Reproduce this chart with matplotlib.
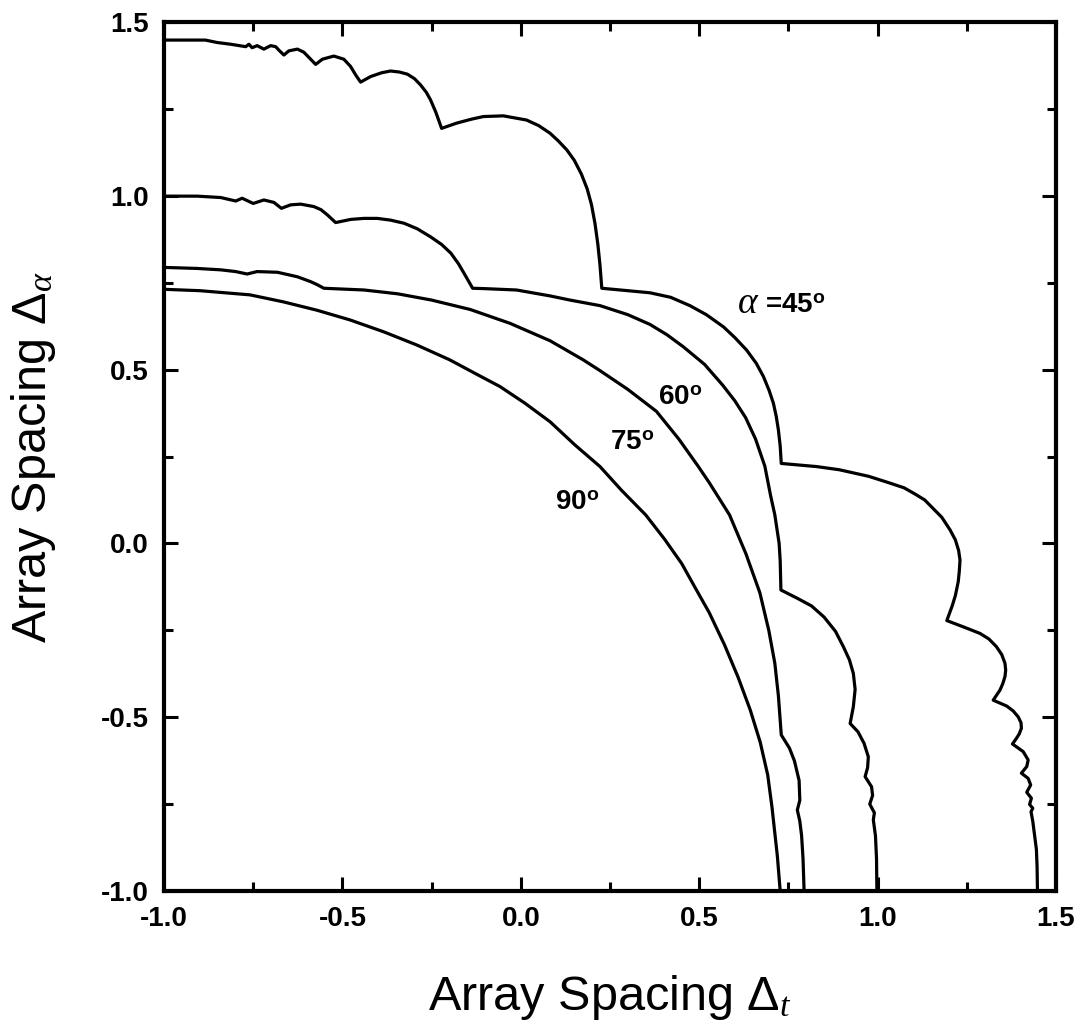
import matplotlib
matplotlib.use('Agg')
import matplotlib.pyplot as plt
from matplotlib import font_manager
from matplotlib.ticker import MultipleLocator, FormatStrFormatter

# curves as (Delta_t, Delta_alpha) pairs
pts45 = [(-1.000, 1.448), (-0.884, 1.448), (-0.851, 1.441), (-0.813, 1.436), (-0.771, 1.429),
         (-0.762, 1.436), (-0.753, 1.426), (-0.739, 1.432), (-0.720, 1.422), (-0.701, 1.432),
         (-0.687, 1.429), (-0.678, 1.419), (-0.664, 1.405), (-0.650, 1.417), (-0.626, 1.422),
         (-0.608, 1.413), (-0.589, 1.393), (-0.575, 1.378), (-0.556, 1.393), (-0.524, 1.402),
         (-0.496, 1.393), (-0.477, 1.372), (-0.463, 1.348), (-0.449, 1.327), (-0.421, 1.343),
         (-0.390, 1.354), (-0.365, 1.359), (-0.340, 1.356), (-0.318, 1.350), (-0.298, 1.337),
         (-0.281, 1.319), (-0.265, 1.298), (-0.253, 1.276), (-0.238, 1.240), (-0.222, 1.194),
         (-0.180, 1.209), (-0.140, 1.220), (-0.105, 1.228), (-0.049, 1.230), (0.016, 1.218),
         (0.050, 1.202), (0.082, 1.180), (0.105, 1.158), (0.129, 1.132), (0.150, 1.102),
         (0.170, 1.062), (0.186, 1.020), (0.198, 0.975), (0.208, 0.920), (0.216, 0.860),
         (0.222, 0.800), (0.227, 0.734), (0.300, 0.727), (0.362, 0.721), (0.420, 0.708),
         (0.474, 0.684), (0.520, 0.658), (0.568, 0.623), (0.600, 0.592), (0.633, 0.556),
         (0.660, 0.518), (0.680, 0.480), (0.696, 0.440), (0.708, 0.403), (0.716, 0.365),
         (0.722, 0.326), (0.727, 0.280), (0.730, 0.230), (0.829, 0.221), (0.892, 0.212),
         (0.975, 0.193), (1.030, 0.175), (1.074, 0.160), (1.105, 0.142), (1.132, 0.125),
         (1.156, 0.100), (1.180, 0.075), (1.203, 0.039), (1.218, 0.010), (1.227, -0.020),
         (1.231, -0.048), (1.229, -0.080), (1.226, -0.110), (1.218, -0.150), (1.209, -0.180),
         (1.194, -0.222), (1.250, -0.244), (1.287, -0.259), (1.312, -0.275), (1.333, -0.297),
         (1.348, -0.320), (1.357, -0.345), (1.359, -0.365), (1.357, -0.383), (1.351, -0.403),
         (1.343, -0.422), (1.324, -0.451), (1.362, -0.468), (1.380, -0.482), (1.394, -0.499),
         (1.402, -0.516), (1.403, -0.532), (1.397, -0.548), (1.389, -0.561), (1.378, -0.577),
         (1.408, -0.599), (1.422, -0.623), (1.418, -0.642), (1.403, -0.661), (1.422, -0.676),
         (1.429, -0.695), (1.418, -0.716), (1.431, -0.733), (1.426, -0.751), (1.435, -0.762),
         (1.430, -0.772), (1.435, -0.800), (1.440, -0.840), (1.445, -0.880), (1.447, -0.930),
         (1.448, -1.000)]

pts60 = [(-1.000, 0.999), (-0.907, 0.999), (-0.841, 0.995), (-0.799, 0.985), (-0.781, 0.993),
         (-0.750, 0.978), (-0.720, 0.988), (-0.692, 0.981), (-0.671, 0.964), (-0.645, 0.974),
         (-0.617, 0.976), (-0.580, 0.969), (-0.560, 0.960), (-0.542, 0.945), (-0.519, 0.923),
         (-0.477, 0.932), (-0.440, 0.935), (-0.402, 0.935), (-0.365, 0.930), (-0.327, 0.921),
         (-0.290, 0.905), (-0.253, 0.882), (-0.222, 0.860), (-0.196, 0.835), (-0.175, 0.805),
         (-0.159, 0.777), (-0.135, 0.734), (-0.103, 0.733), (-0.012, 0.729), (0.082, 0.712),
         (0.138, 0.700), (0.222, 0.684), (0.300, 0.658), (0.362, 0.630), (0.410, 0.600),
         (0.455, 0.566), (0.515, 0.515), (0.566, 0.455), (0.600, 0.410), (0.630, 0.362),
         (0.658, 0.300), (0.684, 0.222), (0.700, 0.138), (0.712, 0.082), (0.724, 0.000),
         (0.727, -0.050), (0.729, -0.134), (0.777, -0.159), (0.815, -0.180), (0.850, -0.212),
         (0.882, -0.253), (0.904, -0.297), (0.921, -0.335), (0.932, -0.374), (0.937, -0.420),
         (0.932, -0.470), (0.923, -0.518), (0.945, -0.542), (0.962, -0.575), (0.974, -0.614),
         (0.972, -0.645), (0.965, -0.671), (0.983, -0.700), (0.986, -0.725), (0.978, -0.750),
         (0.991, -0.775), (0.988, -0.795), (0.994, -0.841), (0.997, -0.907), (0.998, -1.000)]

pts75 = [(-1.000, 0.794), (-0.907, 0.791), (-0.841, 0.787), (-0.799, 0.782), (-0.767, 0.775),
         (-0.739, 0.782), (-0.682, 0.780), (-0.626, 0.767), (-0.589, 0.753), (-0.570, 0.744),
         (-0.552, 0.734), (-0.439, 0.729), (-0.345, 0.718), (-0.250, 0.700), (-0.142, 0.673),
         (-0.030, 0.633), (0.082, 0.583), (0.175, 0.528), (0.222, 0.497), (0.300, 0.443),
         (0.380, 0.380), (0.443, 0.300), (0.497, 0.222), (0.528, 0.175), (0.585, 0.082),
         (0.631, -0.030), (0.670, -0.142), (0.695, -0.250), (0.712, -0.345), (0.722, -0.439),
         (0.730, -0.551), (0.753, -0.589), (0.767, -0.626), (0.780, -0.682), (0.782, -0.739),
         (0.775, -0.767), (0.782, -0.799), (0.787, -0.841), (0.791, -0.907), (0.794, -1.000)]

pts90 = [(-1.000, 0.731), (-0.899, 0.727), (-0.759, 0.715), (-0.666, 0.695), (-0.572, 0.671),
         (-0.479, 0.643), (-0.385, 0.609), (-0.292, 0.571), (-0.199, 0.528), (-0.128, 0.489),
         (-0.058, 0.451), (0.012, 0.403), (0.082, 0.350), (0.152, 0.283), (0.222, 0.221),
         (0.283, 0.152), (0.350, 0.082), (0.403, 0.012), (0.451, -0.058), (0.489, -0.128),
         (0.528, -0.199), (0.571, -0.292), (0.609, -0.385), (0.643, -0.479), (0.671, -0.572),
         (0.692, -0.666), (0.704, -0.759), (0.719, -0.899), (0.727, -1.000)]

labels = [r'=45$^{\mathbf{o}}$', r'60$^{\mathbf{o}}$', r'75$^{\mathbf{o}}$', r'90$^{\mathbf{o}}$']
label_x = [0.684, 0.385, 0.250, 0.096]
label_y = [0.663, 0.398, 0.269, 0.096]

have_narrow = any(f.name == 'Liberation Sans Narrow' for f in font_manager.fontManager.ttflist)
label_font = 'Liberation Sans Narrow' if have_narrow else 'Liberation Sans'
label_size = 42 if have_narrow else 35

plt.rcParams['font.family'] = ['Liberation Sans', 'DejaVu Sans']
plt.rcParams['axes.unicode_minus'] = False
plt.rcParams['mathtext.fontset'] = 'custom'
plt.rcParams['mathtext.rm'] = 'Liberation Sans'
plt.rcParams['mathtext.it'] = 'Liberation Serif:italic'
plt.rcParams['mathtext.bf'] = 'Liberation Sans:bold'

fig = plt.figure(figsize=(10.81, 10.27), dpi=100)
ax = fig.add_axes([164 / 1081, 136 / 1027, 892 / 1081, 869 / 1027])

for pts in [pts45, pts60, pts75, pts90]:
    xs, ys = zip(*pts)
    ax.plot(xs, ys, color='black', linewidth=2.3, solid_joinstyle='round')

for txt, tx, ty in zip(labels, label_x, label_y):
    ax.text(tx, ty, txt, fontsize=20, fontweight='bold', ha='left', va='baseline')
# the alpha in front of "=45" is a larger italic serif glyph
ax.text(0.605, 0.663, r'$\alpha$', fontsize=27, ha='left', va='baseline')

ax.set_xlim(-1.0, 1.5)
ax.set_ylim(-1.0, 1.5)
ax.xaxis.set_major_locator(MultipleLocator(0.5))
ax.xaxis.set_minor_locator(MultipleLocator(0.25))
ax.yaxis.set_major_locator(MultipleLocator(0.5))
ax.yaxis.set_minor_locator(MultipleLocator(0.25))
ax.xaxis.set_major_formatter(FormatStrFormatter('%.1f'))
ax.yaxis.set_major_formatter(FormatStrFormatter('%.1f'))

ax.tick_params(which='both', direction='in', top=True, right=True, width=2.2)
ax.tick_params(which='major', length=10, pad=11, labelsize=20)
ax.tick_params(which='minor', length=6.5)
for lab in ax.get_xticklabels() + ax.get_yticklabels():
    lab.set_fontweight('bold')
for sp in ax.spines.values():
    sp.set_linewidth(3)

ax.set_xlabel(r'Array Spacing $\Delta_t$', fontsize=label_size, family=label_font)
ax.set_ylabel(r'Array Spacing $\Delta_\alpha$', fontsize=label_size, family=label_font)
ax.xaxis.set_label_coords(0.5, -0.094)
ax.yaxis.set_label_coords(-0.119, 0.5)

fig.savefig('out.png', dpi=100)
